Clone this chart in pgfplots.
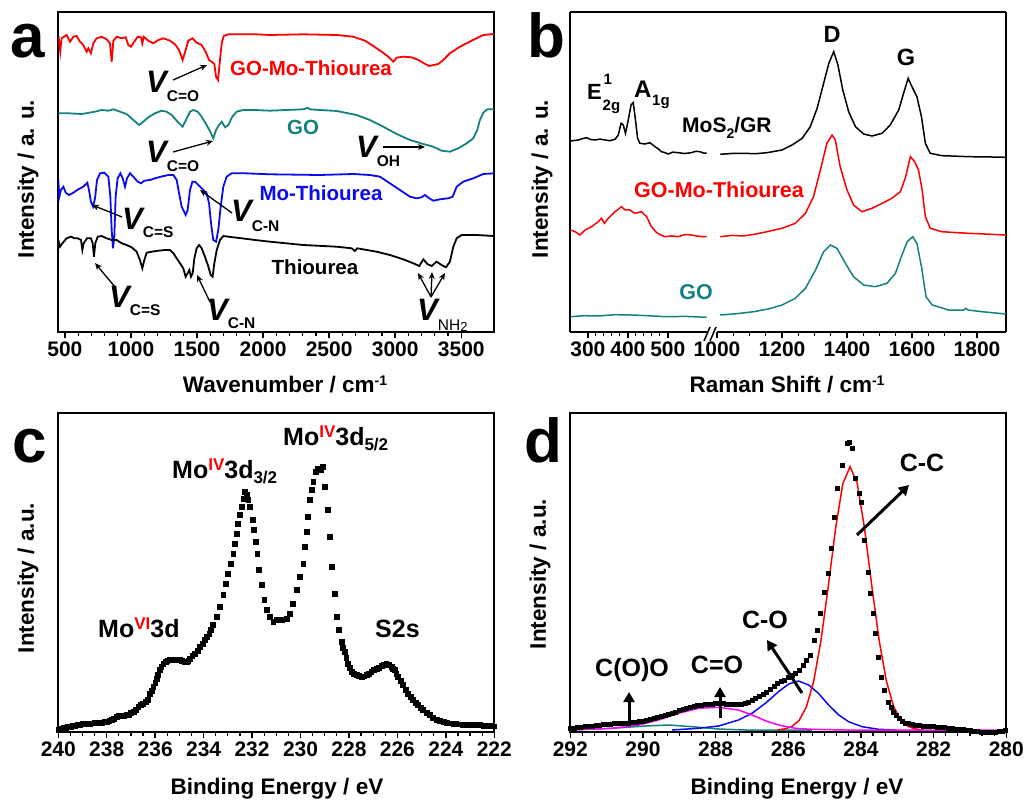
\documentclass[border=0pt]{standalone}
\usepackage{fontspec}
\setmainfont{Liberation Sans}
\usepackage{pgfplots}
\pgfplotsset{compat=1.18}
\usetikzlibrary{arrows.meta}
\definecolor{cred}{RGB}{255,0,0}
\definecolor{cblue}{RGB}{10,10,240}
\definecolor{cteal}{RGB}{20,128,128}
\definecolor{cmag}{RGB}{255,0,255}
\newcommand{\fs}[1]{\fontsize{#1}{#1}\selectfont}
\newcommand{\Vlab}[2]{{\fs{31}\bfseries\itshape V}\raisebox{#1}{\fs{15.5}\bfseries #2}}
\pgfplotsset{
  panel/.style={
    scale only axis, width=436pt, height=320pt, anchor=south west,
    axis line style={line width=2pt}, ytick=\empty, ymin=0, ymax=320,
    xtick pos=bottom, tick align=outside,
    major tick length=6pt, minor tick length=3.5pt,
    major tick style={line width=1.5pt, black},
    minor tick style={line width=1.2pt, black},
    xticklabel style={font=\fs{21}\bfseries},
    /pgf/number format/assume math mode=true,
    /pgf/number format/1000 sep={},
  }
}
\begin{document}
\begin{tikzpicture}
% ---------------- panel a
\begin{axis}[panel, at={(58.3pt,-332.3pt)}, xmin=450, xmax=3750, xtick={500,1000,...,3500}, minor x tick num=4]
\addplot[cred, line width=1.8pt] coordinates {(452,296)(465,280.6)(475,294)(513,297.3)(539,290.6)(564,295.6)(589,296.3)(614,290.6)(639,287.3)(665,280.6)(677,284)(697,279)(715,289)(740,294)(778,295.6)(816,293)(841,289)(854,270.6)(867,291.6)(892,295.6)(930,294)(960,295)(980,287.3)(1000,285.6)(1025,290.6)(1051,295.6)(1076,295)(1086,289)(1096,295.6)(1131,291.6)(1169,289)(1207,292.3)(1245,294)(1295,291.6)(1333,288)(1364,282.3)(1391,272.3)(1414,282.3)(1434,291.6)(1465,294)(1497,289.6)(1535,287.3)(1565,280.6)(1591,272.3)(1611,270.6)(1631,268.3)(1644,255.6)(1659,252.3)(1671,269)(1687,289)(1702,296.3)(1737,298)(1939,298)(2052,297.3)(2304,298)(2557,297.3)(2683,295.6)(2771,291.6)(2834,286.3)(2897,280.6)(2948,275.6)(2985,270.6)(3011,274.6)(3061,275.6)(3124,275)(3175,272.3)(3218,269)(3258,266.3)(3293,267.3)(3326,268.3)(3364,272.3)(3414,279)(3490,285.6)(3578,291.6)(3667,297.3)(3747,298.3)};
\addplot[cteal, line width=1.8pt] coordinates {(450,219)(526,219)(627,218.3)(728,220.6)(778,222.3)(829,221.6)(867,223)(917,220.6)(967,218.3)(1018,212.3)(1061,207.3)(1094,210.6)(1131,215)(1182,219)(1232,221.6)(1270,220.6)(1308,217.3)(1353,210.6)(1391,205.6)(1422,214)(1447,220.6)(1472,222.3)(1505,220.6)(1535,215.6)(1573,207.3)(1606,199)(1623,194)(1644,202.3)(1666,207.3)(1687,210.6)(1712,205)(1737,207.3)(1767,215.6)(1800,220.6)(1850,222.3)(1939,222.3)(2052,221.6)(2304,223)(2340,224.5)(2350,223)(2557,221.3)(2708,217.3)(2809,212.3)(2910,205.6)(3011,198.3)(3112,192.3)(3213,188.3)(3288,185.6)(3351,181.6)(3414,180.6)(3477,184)(3541,189)(3591,194)(3621,202.3)(3641,212.3)(3667,219.6)(3697,223)(3747,223)};
\addplot[cblue, line width=1.8pt] coordinates {(450,152.3)(458,135.6)(470,142.3)(488,145.6)(506,139.6)(531,137.3)(564,139.6)(602,143)(639,145.6)(670,149.6)(682,142.3)(697,130.6)(713,125.6)(728,134)(743,152.3)(766,159)(798,159.6)(829,155.6)(844,135.6)(854,102.3)(864,84)(874,95.6)(884,135.6)(899,154)(920,159)(937,154)(955,145.6)(970,154)(993,159)(1018,155.6)(1051,150.6)(1076,149)(1101,151.6)(1144,152.3)(1182,154)(1227,155.6)(1283,157.3)(1321,157.3)(1346,152.3)(1364,139)(1384,125.6)(1414,117.3)(1429,122.3)(1447,142.3)(1465,150.6)(1485,150.6)(1510,147.3)(1548,142.3)(1573,139)(1591,129)(1606,109)(1623,92.3)(1644,90.6)(1661,102.3)(1679,125.6)(1699,145.6)(1724,155.6)(1762,159)(1863,159)(2052,158)(2430,157.3)(2683,158.3)(2809,157.3)(2885,155.6)(2960,149)(3036,142.3)(3112,135.6)(3162,134)(3200,135)(3225,137.3)(3258,134)(3288,131.6)(3339,133)(3402,134)(3435,135.6)(3465,145.6)(3515,150.6)(3591,154)(3667,158.3)(3747,159)};
\addplot[black, line width=1.8pt] coordinates {(450,92.3)(463,85.6)(481,89)(513,94)(546,95.6)(571,94)(597,94)(622,92.3)(632,82.3)(642,89)(667,94)(697,94)(710,89)(720,75.6)(730,89)(748,95.6)(778,96.3)(816,94)(854,92.3)(892,92.3)(930,89)(967,87.3)(1005,85)(1043,80.6)(1068,72.3)(1086,64)(1101,72.3)(1119,79.6)(1157,80.6)(1207,81.6)(1258,82.3)(1295,82.3)(1321,79)(1346,74)(1371,69)(1396,64)(1414,55.6)(1429,59)(1442,62.3)(1454,55.6)(1467,59)(1480,74)(1497,84)(1515,87.3)(1535,84)(1560,75.6)(1586,65.6)(1603,57.3)(1618,55.6)(1631,69)(1649,82.3)(1674,92.3)(1699,96.3)(1737,95.6)(1838,94)(1939,92.3)(2052,90.6)(2304,87.3)(2557,85.6)(2670,84)(2695,81.3)(2713,84)(2859,80.6)(2960,77.3)(3061,73)(3137,69)(3182,66.3)(3213,73)(3243,68.3)(3276,66.3)(3313,70.6)(3351,67.3)(3384,65)(3414,70.6)(3440,85.6)(3465,94)(3503,97.3)(3616,97.3)(3747,96.3)};
\end{axis}
% ---------------- panel b (broken axis)
\begin{axis}[panel, at={(570.3pt,-332.3pt)}, width=136.7pt, xmin=256, xmax=598, xtick={300,400,500}, minor x tick num=4, axis y line*=left, axis x line*=bottom]
\addplot[black, line width=1.5pt] coordinates {(256,191.3)(266,191.8)(276,192.3)(286,193.6)(297,194.6)(307,192.8)(318,192.3)(330,193.2)(343,192.3)(355,191.6)(368,193)(376,197.3)(383,209)(388.5,207.3)(394,199)(401,212.3)(408,227.3)(413.5,229.6)(418,215.6)(424.4,194)(430,189)(443,188.3)(455,189.6)(468,185.6)(476,183.5)(484,180.6)(492,179.8)(501,178.3)(513,180.2)(526,179.6)(542,178.8)(559,179.6)(570,181)(580,180.6)(590,179.2)(597,179.3)};
\addplot[cred, line width=1.5pt] coordinates {(256,102.3)(268,100.6)(280,97.3)(293,102.3)(309,105.6)(326,110.6)(334,114)(341,109)(351,114)(368,120.6)(384,125.6)(393,122.3)(405,122.3)(418,119)(434,120.6)(447,115.6)(459,105.6)(472,99.6)(483,97.2)(493,95.6)(510,96.4)(526,95.6)(543,97.8)(559,97.3)(578,95.9)(597,95.6)};
\addplot[cteal, line width=1.5pt] coordinates {(256,15.6)(290,16.6)(326,16.3)(368,17.6)(409,17.3)(450,16.6)(493,15.6)(545,15.9)(597,15)};
\end{axis}
\begin{axis}[panel, at={(717pt,-332.3pt)}, width=289.3pt, xmin=1000, xmax=1890, xtick={1000,1200,...,1800}, minor x tick num=3, axis y line*=right, axis x line*=bottom]
\addplot[black, line width=1.5pt] coordinates {(1010,178)(1045,178.8)(1082,179)(1118,178.6)(1154,179.6)(1200,182.3)(1231,187.3)(1262,194)(1287,205.6)(1308,224)(1328,249)(1344,269)(1359,280.6)(1372,267.3)(1387,242.3)(1405,220.6)(1426,205.6)(1451,198.3)(1477,196.3)(1508,199)(1533,207.3)(1559,222.3)(1574,239)(1588,254)(1602,244)(1615,235.6)(1629,215.6)(1641,189)(1656,179)(1692,176.6)(1730,176.2)(1774,175.6)(1830,175.4)(1889,175)};
\addplot[cred, line width=1.5pt] coordinates {(1010,95.6)(1045,96.9)(1082,96.3)(1118,98.2)(1154,100.6)(1200,104)(1241,109)(1272,119)(1297,135.6)(1318,162.3)(1338,189)(1354,197.3)(1364,192.3)(1379,165.6)(1400,142.3)(1420,127.3)(1446,120.6)(1477,124)(1508,129)(1538,134)(1564,140.6)(1579,154)(1595,175.6)(1608,170.6)(1620,162.3)(1631,142.3)(1641,115.6)(1656,104)(1692,100.6)(1730,99.8)(1774,99)(1830,98.2)(1889,97.3)};
\addplot[cteal, line width=1.5pt] coordinates {(1010,17.3)(1060,18.6)(1113,20.6)(1160,23.5)(1200,27.3)(1241,34)(1272,44)(1303,62.3)(1328,80.6)(1349,87.3)(1369,84)(1395,69)(1420,55.6)(1451,47.3)(1487,45.6)(1523,49)(1549,59)(1569,77.3)(1585,90.6)(1602,95.6)(1615,89)(1629,65.6)(1643,35.6)(1662,27.3)(1713,22.3)(1759,22.3)(1765,24)(1772,22.3)(1815,20.6)(1889,18.3)};
\end{axis}
% ---------------- panel c
\begin{axis}[panel, at={(58.3pt,-732.3pt)}, height=319pt, ymax=319, xmin=222, xmax=240, x dir=reverse, xtick={222,224,...,240}, minor x tick num=3]
\addplot[only marks, mark=square*, mark size=2.4pt, black] coordinates {(240.0,2.3)(239.9,3.5)(239.8,4.3)(239.7,5)(239.6,5.5)(239.5,6)(239.4,6.6)(239.3,7)(239.2,7.3)(239.1,7.8)(239.0,8.3)(238.9,8.8)(238.8,9)(238.7,9)(238.6,9.2)(238.5,9.3)(238.4,9.4)(238.3,9.6)(238.2,10)(238.1,10.5)(238.0,11)(237.9,11.6)(237.8,12.5)(237.7,14)(237.6,15.5)(237.5,16.3)(237.4,16.6)(237.3,17)(237.2,17.3)(237.1,18)(237.0,19.5)(236.9,20.6)(236.8,23)(236.7,25.5)(236.6,27.5)(236.5,29)(236.4,30.3)(236.3,33)(236.22,39)(236.15,42)(236.08,45.6)(236.0,50)(235.94,54)(235.88,58)(235.83,62.3)(235.75,66)(235.67,69)(235.58,71)(235.5,72)(235.4,72.6)(235.3,73)(235.2,73)(235.1,72.6)(235.0,72.3)(234.9,71.6)(234.8,71)(234.71,70.6)(234.64,72)(234.57,74)(234.47,76.5)(234.36,79)(234.26,82)(234.16,85.6)(234.05,89)(233.95,92.3)(233.86,95.5)(233.77,99)(233.7,103)(233.63,107.3)(233.47,115.6)(233.33,125.6)(233.19,137.3)(233.08,149)(232.99,159)(232.89,169)(232.78,179)(232.71,189)(232.64,199)(232.58,209)(232.51,217.3)(232.44,225.6)(232.37,234)(232.30,240.6)(232.23,237.3)(232.16,232.3)(232.09,225.6)(231.98,212.3)(231.92,202.3)(231.85,190.6)(231.79,179)(231.71,162.3)(231.61,147.3)(231.50,132.3)(231.41,122.3)(231.27,115.6)(231.13,110.6)(230.99,112.3)(230.79,112.3)(230.58,114)(230.44,119)(230.31,129)(230.17,142.3)(230.03,155.6)(229.89,169)(229.83,185.6)(229.76,200.6)(229.69,215.6)(229.62,232.3)(229.55,242.3)(229.48,250.6)(229.37,260.6)(229.28,264)(229.18,262.3)(229.10,265.6)(229.00,245.6)(228.89,222.3)(228.79,195.6)(228.70,165.6)(228.59,139)(228.52,115.6)(228.41,102.3)(228.31,90.6)(228.25,85)(228.18,80.6)(228.11,75)(228.04,69)(227.97,64.5)(227.90,60.6)(227.8,58.5)(227.69,57.3)(227.6,56.3)(227.49,55.6)(227.4,56.2)(227.28,57.3)(227.18,59)(227.08,60.6)(226.98,62.5)(226.87,64)(226.77,65)(226.66,66.3)(226.56,67.3)(226.46,68.3)(226.36,67.5)(226.25,65.6)(226.18,64)(226.12,62.3)(226.05,59)(225.98,55.6)(225.88,51.5)(225.77,47.3)(225.67,43)(225.56,39)(225.46,35.5)(225.36,32.3)(225.25,29.6)(225.15,27.3)(225.05,24.6)(224.94,22.3)(224.8,19.5)(224.67,17.3)(224.53,15)(224.39,13)(224.25,11.6)(224.1,10.5)(223.98,9.6)(223.85,9.2)(223.7,8.7)(223.57,8.3)(223.45,8.1)(223.3,8)(223.16,8)(223.0,7.8)(222.85,7.6)(222.7,7.4)(222.61,7.3)(222.45,7)(222.3,6.8)(222.15,6.5)(222.0,6.2)};
\end{axis}
% ---------------- panel d
\begin{axis}[panel, at={(570.3pt,-732.3pt)}, height=319pt, ymax=319, xmin=280, xmax=292, x dir=reverse, xtick={280,282,...,292}, minor x tick num=5]
\addplot[only marks, mark=square*, mark size=2pt, black] coordinates {(292.0,4)(291.9,4.4)(291.8,4.9)(291.7,5.3)(291.6,5.8)(291.5,6.3)(291.4,6.6)(291.3,7)(291.2,7.3)(291.1,7.7)(291.0,8.1)(290.9,8.4)(290.8,8.7)(290.7,8.9)(290.6,9.1)(290.5,9.4)(290.4,9.6)(290.3,10)(290.2,10.3)(290.1,10.8)(290.0,11.6)(289.9,12.5)(289.8,13.4)(289.7,14.4)(289.6,15.4)(289.5,16.3)(289.4,17.3)(289.3,18.3)(289.2,19.4)(289.1,20.6)(289.0,21.8)(288.9,23)(288.8,24.3)(288.7,25.4)(288.6,26.3)(288.5,27.1)(288.4,27.6)(288.3,28)(288.2,28.3)(288.1,28.6)(288.0,28.8)(287.9,29)(287.8,28.8)(287.7,28.5)(287.6,28.3)(287.5,28.3)(287.4,28.3)(287.3,28.6)(287.2,29.4)(287.1,30.6)(287.0,32.3)(286.9,34)(286.8,36)(286.7,38)(286.6,40.5)(286.5,43.5)(286.4,46.3)(286.3,49)(286.2,51)(286.1,52.6)(286.0,55)(285.9,57.3)(285.8,59.6)(285.7,62.5)(285.6,67)(285.5,72)(285.41,77.3)(285.30,92.3)(285.21,102.3)(285.12,119)(285.01,140.6)(284.91,159)(284.82,184)(284.75,215.6)(284.66,244)(284.52,267.3)(284.39,289)(284.32,290.6)(284.25,284)(284.16,254)(284.06,239)(283.99,230.6)(283.90,192.3)(283.81,160.6)(283.74,139)(283.65,119)(283.61,99)(283.53,75.6)(283.44,55.6)(283.35,42.3)(283.24,30.6)(283.17,25)(283.10,20.6)(283.03,17)(282.96,14)(282.87,11.6)(282.78,9.6)(282.7,8.8)(282.6,8)(282.5,7.3)(282.4,7)(282.3,6.6)(282.23,6.3)(282.1,6)(282.0,5.8)(281.9,5.6)(281.8,5.4)(281.7,5)(281.6,4.5)(281.5,4)(281.4,3.6)(281.3,3.1)(281.2,2.7)(281.13,2.3)(281.0,1.7)(280.9,1.2)(280.8,0.7)(280.7,0.4)(280.6,0.2)(280.5,0.1)(280.4,0)(280.3,0.3)(280.2,0.9)(280.1,1.6)(280.03,2.3)};
\addplot[cteal, line width=1.5pt] coordinates {(292,2.3)(290.85,4)(289.94,6.3)(289.29,7.3)(288.65,5.6)(287.92,3.3)(287.18,2.3)(285.35,2.3)};
\addplot[cblue, line width=1.5pt] coordinates {(289.20,2.3)(288.47,4.0)(287.92,6.3)(287.37,12.3)(287.00,19)(286.63,29)(286.27,40.6)(285.99,48.3)(285.72,51.3)(285.44,47.3)(285.17,39)(284.89,27.3)(284.61,17.3)(284.34,10.6)(283.97,5.6)(283.51,3)(283.06,2.3)};
\addplot[cred, line width=1.5pt] coordinates {(286.3,2.4)(286.1,3.4)(285.9,5.8)(285.7,12)(285.5,25.6)(285.3,51.2)(285.1,92)(284.9,146)(284.7,203.5)(284.5,248.5)(284.3,265.6)(284.1,248.5)(283.9,203.5)(283.7,146)(283.5,92)(283.3,51.2)(283.1,25.6)(282.9,12)(282.7,5.8)(282.5,3.4)(282.3,2.4)};
\addplot[cmag, line width=1.5pt] coordinates {(292.0,2.3)(290.85,4.0)(290.12,7.3)(289.57,12.3)(289.02,19)(288.47,24)(287.92,25)(287.37,22.3)(287.00,17.3)(286.63,11.6)(286.27,7.3)(285.81,4.0)(285.35,3.0)(284.43,2.3)(280.0,2.3)};
\end{axis}
% ---------------- annotations (image pixel coordinates)
\begin{scope}[x=1pt, y=-1pt]
\draw[line width=2pt] (570.3,12.3) -- (1006.3,12.3);
\draw[line width=1.5pt] (704,341) -- (710,327) (710,341) -- (716,327);
% panel letters
\node[anchor=base west, inner sep=0] at (10,58) {\fs{62}\bfseries a};
\node[anchor=base west, inner sep=0] at (527,58) {\fs{62}\bfseries b};
\node[anchor=base west, inner sep=0] at (12,462) {\fs{62}\bfseries c};
\node[anchor=base west, inner sep=0] at (524,462) {\fs{62}\bfseries d};
% axis labels
\node[rotate=90, inner sep=0] at (28,179) {\fs{22.5}\bfseries Intensity / a. u.};
\node[rotate=90, inner sep=0] at (542,179) {\fs{22.5}\bfseries Intensity / a. u.};
\node[rotate=90, inner sep=0] at (28,578) {\fs{22.5}\bfseries Intensity / a.u.};
\node[rotate=90, inner sep=0] at (540,574) {\fs{22.5}\bfseries Intensity / a.u.};
\node[anchor=base, inner sep=0] at (285,392) {\fs{22.5}\bfseries Wavenumber / cm\raisebox{7pt}{\fs{14}-1}};
\node[anchor=base, inner sep=0] at (787,392) {\fs{22.5}\bfseries Raman Shift / cm\raisebox{7pt}{\fs{14}-1}};
\node[anchor=base, inner sep=0] at (277,794) {\fs{22.5}\bfseries Binding Energy / eV};
\node[anchor=base, inner sep=0] at (797,794) {\fs{22.5}\bfseries Binding Energy / eV};
% panel a labels
\node[inner sep=0, text=cred] at (311,68) {\fs{20.5}\bfseries GO-Mo-Thiourea};
\node[inner sep=0, text=cteal] at (303,127) {\fs{20.5}\bfseries GO};
\node[inner sep=0, text=cblue] at (321,193) {\fs{20.5}\bfseries Mo-Thiourea};
\node[inner sep=0] at (315,267) {\fs{20.5}\bfseries Thiourea};
\node[anchor=base west, inner sep=0] at (146,93) {\Vlab{-9pt}{C=O}};
\node[anchor=base west, inner sep=0] at (146,163) {\Vlab{-9pt}{C=O}};
\node[anchor=base west, inner sep=0] at (356,158) {\Vlab{-9pt}{OH}};
\node[anchor=base west, inner sep=0] at (122,230) {\Vlab{-8pt}{C=S}};
\node[anchor=base west, inner sep=0] at (231,222) {\Vlab{-10pt}{C-N}};
\node[anchor=base west, inner sep=0] at (109,307) {\Vlab{-8pt}{C=S}};
\node[anchor=base west, inner sep=0] at (207,320) {\Vlab{-8pt}{C-N}};
\node[anchor=base west, inner sep=0] at (417,320) {{\fs{31}\bfseries\itshape V}\raisebox{-10pt}{\fs{15.5}NH\raisebox{-1pt}{\fs{13}2}}};
\begin{scope}[line width=1.3pt, -{Stealth[length=7pt,width=6pt]}]
\draw (173,80) -- (207,65);
\draw (173,152) -- (213,141);
\draw (383,147) -- (425,147);
\draw (122,217) -- (92,205);
\draw (232,213) -- (200,190);
\draw (115,287) -- (95,263);
\draw (210,302) -- (197,275);
\draw (431,297) -- (418,273);
\draw (431,297) -- (432,272);
\draw (431,297) -- (445,273);
\end{scope}
% panel b labels
\node[anchor=base west, inner sep=0] at (587,100) {\fs{22}\bfseries E};
\node[anchor=base west, inner sep=0] at (603.5,85) {\fs{15}\bfseries 1};
\node[anchor=base west, inner sep=0] at (602.5,111) {\fs{15}\bfseries 2g};
\node[anchor=base west, inner sep=0] at (634,98) {\fs{24}\bfseries A};
\node[anchor=base west, inner sep=0] at (652,106) {\fs{15}\bfseries 1g};
\node[anchor=base west, inner sep=0] at (682,133) {\fs{21}\bfseries MoS\raisebox{-6pt}{\fs{14}2}/GR};
\node[inner sep=0, text=cred] at (719,190) {\fs{21.5}\bfseries GO-Mo-Thiourea};
\node[inner sep=0, text=cteal] at (696,292) {\fs{21.5}\bfseries GO};
\node[inner sep=0] at (832,34) {\fs{23.5}\bfseries D};
\node[inner sep=0] at (906,57) {\fs{23.5}\bfseries G};
% panel c labels
\node[anchor=base west, inner sep=0] at (98,637) {\fs{25}\bfseries Mo\raisebox{8pt}{\fs{17}\color{cred}VI}3d};
\node[anchor=base west, inner sep=0] at (172,478) {\fs{25}\bfseries Mo\raisebox{8pt}{\fs{17}\color{cred}IV}3d\raisebox{-5pt}{\fs{17}3/2}};
\node[anchor=base west, inner sep=0] at (283,445) {\fs{25}\bfseries Mo\raisebox{8pt}{\fs{17}\color{cred}IV}3d\raisebox{-5pt}{\fs{17}5/2}};
\node[anchor=base west, inner sep=0] at (375,637) {\fs{25}\bfseries S2s};
% panel d labels
\node[inner sep=0] at (922,463) {\fs{25}\bfseries C-C};
\node[inner sep=0] at (765,620) {\fs{25}\bfseries C-O};
\node[inner sep=0] at (717,665) {\fs{25}\bfseries C=O};
\node[inner sep=0] at (632,670) {\fs{25}\bfseries C(O)O};
\begin{scope}[line width=3pt, -{Triangle[length=10pt,width=11pt]}]
\draw (857,535) -- (909,485);
\draw (802,693) -- (767,640);
\draw (720,718) -- (720,687);
\draw (629,725) -- (629,692);
\end{scope}
\end{scope}
\pgfresetboundingbox
\path[use as bounding box] (0pt,0pt) rectangle (1025pt,-802pt);
\end{tikzpicture}
\end{document}
